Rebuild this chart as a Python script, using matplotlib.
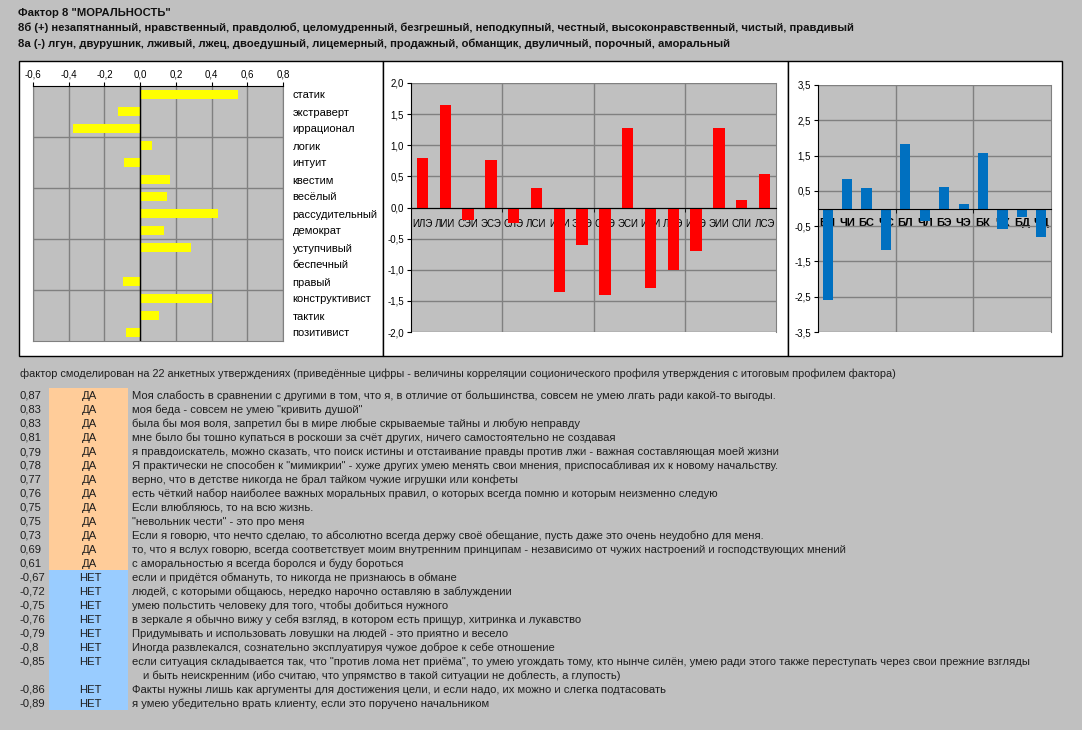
import numpy as np
import matplotlib
matplotlib.use("Agg")
import matplotlib.pyplot as plt
from matplotlib.patches import Rectangle
from matplotlib.ticker import FuncFormatter, FixedLocator

plt.rcParams['font.family'] = ['Liberation Sans', 'DejaVu Sans']

# ---- data ----
title = 'Фактор 8 "МОРАЛЬНОСТЬ"'
pos_words = '8б (+) незапятнанный, нравственный, правдолюб, целомудренный, безгрешный, неподкупный, честный, высоконравственный, чистый, правдивый'
neg_words = '8а (-) лгун, двурушник, лживый, лжец, двоедушный, лицемерный, продажный, обманщик, двуличный, порочный, аморальный'
note = 'фактор смоделирован на 22 анкетных утверждениях (приведённые цифры - величины корреляции соционического профиля утверждения с итоговым профилем фактора)'

traits = ['статик', 'экстраверт', 'иррационал', 'логик', 'интуит', 'квестим', 'весёлый',
          'рассудительный', 'демократ', 'уступчивый', 'беспечный', 'правый',
          'конструктивист', 'тактик', 'позитивист']
trait_vals = [0.55, -0.126, -0.378, 0.065, -0.092, 0.165, 0.149, 0.434, 0.132, 0.283,
              0.007, -0.098, 0.40, 0.104, -0.081]

types = ['ИЛЭ', 'ЛИИ', 'СЭИ', 'ЭСЭ', 'СЛЭ', 'ЛСИ', 'ИЭИ', 'ЭИЭ',
         'СЭЭ', 'ЭСИ', 'ИЛИ', 'ЛИЭ', 'ИЭЭ', 'ЭИИ', 'СЛИ', 'ЛСЭ']
type_vals = [0.79, 1.64, -0.2, 0.76, -0.25, 0.31, -1.35, -0.60,
             -1.40, 1.27, -1.29, -1.0, -0.70, 1.27, 0.12, 0.54]

funcs = ['БИ', 'ЧИ', 'БС', 'ЧС', 'БЛ', 'ЧЛ', 'БЭ', 'ЧЭ', 'БК', 'ЧК', 'БД', 'ЧД']
func_vals = [-2.60, 0.85, 0.57, -1.17, 1.84, -0.35, 0.61, 0.12, 1.57, -0.59, -0.25, -0.81]

corr = [0.87, 0.83, 0.83, 0.81, 0.79, 0.78, 0.77, 0.76, 0.75, 0.75, 0.73, 0.69, 0.61,
        -0.67, -0.72, -0.75, -0.76, -0.79, -0.8, -0.85, -0.86, -0.89]
statements = [
    'Моя слабость в сравнении с другими в том, что я, в отличие от большинства, совсем не умею лгать ради какой-то выгоды.',
    'моя беда - совсем не умею "кривить душой"',
    'была бы моя воля, запретил бы в мире любые скрываемые тайны и любую неправду',
    'мне было бы тошно купаться в роскоши за счёт других, ничего самостоятельно не создавая',
    'я правдоискатель, можно сказать, что поиск истины и отстаивание правды против лжи - важная составляющая моей жизни',
    'Я практически не способен к "мимикрии" - хуже других умею менять свои мнения, приспосабливая их к новому начальству.',
    'верно, что в детстве никогда не брал тайком чужие игрушки или конфеты',
    'есть чёткий набор наиболее важных моральных правил, о которых всегда помню и которым неизменно следую',
    'Если влюбляюсь, то на всю жизнь.',
    '"невольник чести" - это про меня',
    'Если я говорю, что нечто сделаю, то абсолютно всегда держу своё обещание, пусть даже это очень неудобно для меня.',
    'то, что я вслух говорю, всегда соответствует моим внутренним принципам - независимо от чужих настроений и господствующих мнений',
    'с аморальностью я всегда боролся и буду бороться',
    'если и придётся обмануть, то никогда не признаюсь в обмане',
    'людей, с которыми общаюсь, нередко нарочно оставляю в заблуждении',
    'умею польстить человеку для того, чтобы добиться нужного',
    'в зеркале я обычно вижу у себя взгляд, в котором есть прищур, хитринка и лукавство',
    'Придумывать и использовать ловушки на людей - это приятно и весело',
    'Иногда развлекался, сознательно эксплуатируя чужое доброе к себе отношение',
    'если ситуация складывается так, что "против лома нет приёма", то умею угождать тому, кто нынче силён, умею ради этого также переступать через свои прежние взгляды',
    'Факты нужны лишь как аргументы для достижения цели, и если надо, их можно и слегка подтасовать',
    'я умею убедительно врать клиенту, если это поручено начальником',
]
continuation = {19: 'и быть неискренним (ибо считаю, что упрямство в такой ситуации не доблесть, а глупость)'}

# ---- layout helpers (pixels) ----
W, H = 1082, 730
BG = '#C0C0C0'
GRID = '#808080'

def fx(px):
    return px / W

def fy(py):
    return 1 - py / H

def box(x0, y0, x1, y1):
    return [x0 / W, 1 - y1 / H, (x1 - x0) / W, (y1 - y0) / H]

def comma(v, pos=None):
    return ('%.1f' % v).replace('.', ',')

fig = plt.figure(figsize=(W / 100, H / 100), dpi=100, facecolor=BG)

# white chart panels
for x0, x1 in [(19, 383), (383, 788), (788, 1062)]:
    fig.add_artist(Rectangle((fx(x0), fy(356)), (x1 - x0) / W, (356 - 61) / H,
                             transform=fig.transFigure, facecolor='white',
                             edgecolor='black', lw=1, zorder=0))

# header
HDR = '#111111'
fig.text(fx(18), fy(16), title, fontsize=8.1, fontweight='bold', va='baseline', color=HDR)
fig.text(fx(18), fy(31), pos_words, fontsize=8.1, fontweight='bold', va='baseline', color=HDR)
fig.text(fx(18), fy(47), neg_words, fontsize=8.1, fontweight='bold', va='baseline', color=HDR)

# ---- left chart: traits ----
ax1 = fig.add_axes(box(33, 86, 283, 341))
ax1.set_facecolor(BG)
y = np.arange(len(traits))
ax1.barh(y, trait_vals, height=0.55, color='#FFFF00', zorder=3)
ax1.set_xlim(-0.6, 0.8)
ax1.set_ylim(len(traits) - 0.5, -0.5)
ax1.set_xticks(np.arange(-0.6, 0.81, 0.2))
ax1.xaxis.set_major_formatter(FuncFormatter(comma))
ax1.xaxis.tick_top()
ax1.tick_params(axis='x', labelsize=7, length=3, pad=2)
ax1.set_yticks(y)
ax1.set_yticklabels(traits)
ax1.yaxis.tick_right()
ax1.tick_params(axis='y', labelsize=8, length=0, pad=7)
ax1.yaxis.set_minor_locator(FixedLocator([2.5, 5.5, 8.5, 11.5]))
ax1.tick_params(axis='y', which='minor', length=0)
ax1.grid(axis='x', which='major', color=GRID, lw=1, zorder=1)
ax1.grid(axis='y', which='minor', color=GRID, lw=1, zorder=1)
ax1.axvline(0, color='black', lw=1, zorder=4)
for s in ['left', 'right', 'bottom']:
    ax1.spines[s].set_color(GRID)
ax1.spines['top'].set_color('black')
ax1.set_axisbelow(True)

# ---- middle chart: types ----
ax2 = fig.add_axes(box(411, 83, 776, 332))
ax2.set_facecolor(BG)
x = np.arange(len(types))
ax2.bar(x, type_vals, width=0.5, color='#FF0000', zorder=2)
ax2.set_xlim(-0.5, len(types) - 0.5)
ax2.set_ylim(-2.0, 2.0)
ax2.set_yticks(np.arange(-2.0, 2.01, 0.5))
ax2.yaxis.set_major_formatter(FuncFormatter(comma))
ax2.tick_params(axis='y', labelsize=7, length=3, pad=2)
ax2.spines['bottom'].set_position(('data', 0))
ax2.set_xticks(x)
ax2.set_xticklabels(types)
ax2.tick_params(axis='x', which='major', labelsize=7, length=0, pad=8)
ax2.xaxis.set_minor_locator(FixedLocator([3.5, 7.5, 11.5]))
ax2.tick_params(axis='x', which='minor', length=3, direction='out')
ax2.grid(axis='y', which='major', color=GRID, lw=1, zorder=1)
ax2.grid(axis='x', which='minor', color=GRID, lw=1, zorder=1)
ax2.set_axisbelow(True)
ax2.spines['top'].set_visible(False)
ax2.spines['right'].set_color(GRID)
ax2.spines['left'].set_color('black')
ax2.spines['bottom'].set_color('black')

# ---- right chart: functions ----
ax3 = fig.add_axes(box(818, 85, 1051, 332))
ax3.set_facecolor(BG)
x3 = np.arange(len(funcs))
ax3.bar(x3, func_vals, width=0.52, color='#0070C0', zorder=2)
ax3.set_xlim(-0.5, len(funcs) - 0.5)
ax3.set_ylim(-3.5, 3.5)
ax3.set_yticks(np.arange(-3.5, 3.51, 1.0))
ax3.yaxis.set_major_formatter(FuncFormatter(comma))
ax3.tick_params(axis='y', labelsize=7, length=3, pad=2)
ax3.spines['bottom'].set_position(('data', 0))
ax3.set_xticks(x3)
ax3.set_xticklabels(funcs, fontweight='bold')
ax3.tick_params(axis='x', which='major', labelsize=8, length=0, pad=7)
ax3.xaxis.set_minor_locator(FixedLocator([3.5, 7.5]))
ax3.tick_params(axis='x', which='minor', length=3, direction='out')
ax3.grid(axis='y', which='major', color=GRID, lw=1, zorder=1)
ax3.grid(axis='x', which='minor', color=GRID, lw=1, zorder=1)
ax3.set_axisbelow(True)
ax3.spines['top'].set_visible(False)
ax3.spines['right'].set_color(GRID)
ax3.spines['left'].set_color('black')
ax3.spines['bottom'].set_color('black')

# ---- statements table ----
TXT = '#1E1E1E'
FS = 8.15
fig.text(fx(20), fy(377), note, fontsize=7.95, va='baseline', color=TXT)

row_y = []
yy = 395
for i in range(len(statements)):
    row_y.append(yy)
    yy += 14
    if i in continuation:
        yy += 14

n_pos = sum(1 for c in corr if c > 0)
fig.add_artist(Rectangle((fx(49), fy(row_y[n_pos - 1] + 7)), (128 - 49) / W,
                         (row_y[n_pos - 1] - row_y[0] + 14) / H,
                         transform=fig.transFigure, facecolor='#FFCC99', lw=0, zorder=0))
fig.add_artist(Rectangle((fx(49), fy(row_y[-1] + 7)), (128 - 49) / W,
                         (row_y[-1] - row_y[n_pos] + 14) / H,
                         transform=fig.transFigure, facecolor='#99CCFF', lw=0, zorder=0))

for i, (c, s) in enumerate(zip(corr, statements)):
    ry = row_y[i] + 4
    fig.text(fx(20), fy(ry), str(c).replace('.', ','), fontsize=FS, va='baseline', color=TXT)
    fig.text(fx(90), fy(ry), 'ДА' if c > 0 else 'НЕТ', fontsize=FS, va='baseline', ha='center', color=TXT)
    fig.text(fx(132), fy(ry), s, fontsize=FS, va='baseline', color=TXT)
    if i in continuation:
        fig.text(fx(143), fy(ry + 14), continuation[i], fontsize=FS, va='baseline', color=TXT)

fig.savefig('out.png', dpi=100, facecolor=BG)
